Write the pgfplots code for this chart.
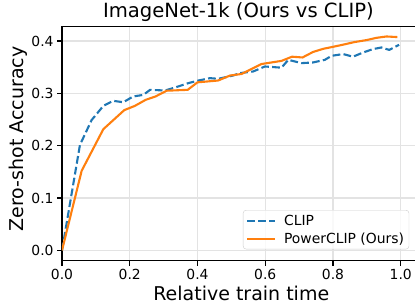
\documentclass[border=0pt]{standalone}
\usepackage{fontspec}
\setmainfont{DejaVu Sans}
\usepackage{pgfplots}
\pgfplotsset{compat=1.18}
\definecolor{tabblue}{HTML}{1F77B4}
\definecolor{taborange}{HTML}{FF7F0E}
\begin{document}
\begin{tikzpicture}[x=1pt,y=1pt]
\path[use as bounding box] (0,0) rectangle (415,304);
\begin{axis}[
  at={(62pt,43.3pt)}, anchor=south west, scale only axis,
  width=355pt, height=234pt,
  xmin=0, xmax=1.048, ymin=-0.0197, ymax=0.4273,
  xtick={0,0.2,0.4,0.6,0.8,1.0},
  ytick={0,0.1,0.2,0.3,0.4},
  tick pos=left, tick align=outside, major tick length=4.9pt,
  tick style={black, line width=1.1pt},
  axis line style={black, line width=1.1pt},
  grid=major, grid style={color=black!11, line width=1.1pt},
  ticklabel style={font=\fontsize{13.9}{16}\selectfont},
  /pgf/number format/.cd, fixed, fixed zerofill, precision=1, assume math mode=true,
  /pgfplots/.cd,
  title={ImageNet-1k (Ours vs CLIP)},
  title style={at={(axis description cs:0.497,1.0235)}, anchor=base, yshift=-2.5pt, font=\fontsize{19.6}{23}\selectfont},
  xlabel={Relative train time},
  xlabel style={at={(axis description cs:0.505,-0.169)}, anchor=base, font=\fontsize{19}{22}\selectfont},
  ylabel={Zero-shot Accuracy},
  ylabel style={at={(axis description cs:-0.123,0.52)}, anchor=center, rotate=0, font=\fontsize{19}{22}\selectfont},
  legend style={at={(axis description cs:0.978,0.0487)}, anchor=south east,
    draw=black!20, rounded corners=3pt, fill=white, fill opacity=0.8, text opacity=1,
    font=\fontsize{13.9}{16}\selectfont, inner xsep=3pt, inner ysep=2.5pt,
    row sep=2pt, column sep=6pt, nodes={inner sep=2pt}},
  legend cell align=left,
  legend image code/.code={\draw[#1] (0pt,0pt) -- (27.8pt,0pt);},
]
\addplot[tabblue, line width=2.1pt, dash pattern=on 7.7pt off 3.3pt, line join=round] coordinates {
(0,0) (0.053,0.2015) (0.0875,0.249) (0.122,0.276) (0.151,0.2857) (0.181,0.283) (0.210,0.294) (0.240,0.297) (0.26,0.3067) (0.304,0.3054) (0.333,0.311) (0.373,0.3195) (0.403,0.3245) (0.437,0.329) (0.461,0.3277) (0.505,0.334) (0.525,0.3386) (0.564,0.3417) (0.599,0.3513) (0.648,0.349) (0.668,0.364) (0.707,0.3577) (0.741,0.359) (0.776,0.364) (0.796,0.3717) (0.830,0.375) (0.859,0.370) (0.889,0.378) (0.918,0.3845) (0.943,0.3876) (0.966,0.383) (0.995,0.3927)
};
\addlegendentry{CLIP}
\addplot[taborange, line width=2.1pt, line join=round] coordinates {
(0,0) (0.058,0.152) (0.122,0.2315) (0.184,0.268) (0.215,0.276) (0.247,0.2876) (0.276,0.294) (0.309,0.305) (0.371,0.3067) (0.400,0.321) (0.461,0.3245) (0.496,0.334) (0.530,0.337) (0.589,0.356) (0.648,0.362) (0.679,0.370) (0.710,0.3685) (0.741,0.379) (0.771,0.385) (0.801,0.389) (0.830,0.393) (0.864,0.398) (0.899,0.4017) (0.928,0.406) (0.958,0.4086) (0.990,0.4075)
};
\addlegendentry{PowerCLIP (Ours)}
\end{axis}
\end{tikzpicture}
\end{document}
